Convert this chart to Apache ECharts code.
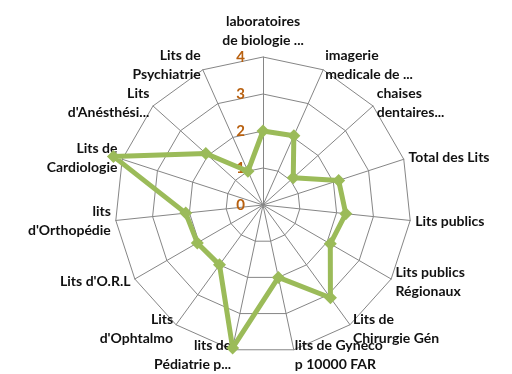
<!DOCTYPE html>
<html>
<head>
<meta charset="utf-8">
<script src="https://cdn.jsdelivr.net/npm/echarts@6/dist/echarts.min.js"></script>
<style>
  html, body { margin: 0; padding: 0; background: #fff; }
  #chart { width: 512px; height: 374px; }
</style>
</head>
<body>
<div id="chart"></div>
<script>
// catégories (dans le sens horaire, depuis le haut)
const categories = [
  'laboratoires\nde biologie ...',
  'imagerie\nmedicale de ...',
  'chaises\ndentaires...',
  'Total des Lits',
  'Lits publics',
  'Lits publics\nRégionaux',
  'Lits de\nChirurgie Gén',
  'lits de Gyneco\np 10000 FAR',
  'lits de\nPédiatrie p...',
  'Lits\nd\'Ophtalmo',
  'Lits d\'O.R.L',
  'lits\nd\'Orthopédie',
  'Lits de\nCardiologie',
  'Lits\nd\'Anésthési...',
  'Lits de\nPsychiatrie'
];
const values = [2.0, 2.05, 1.1, 2.15, 2.25, 2.1, 3.1, 2.0, 3.95, 2.0, 2.05, 2.1, 4.25, 2.08, 1.0];
const axisMax = 4;

// le radar d'ECharts tourne dans le sens anti-horaire : on inverse l'ordre
const order = [0].concat(categories.map((c, i) => i).slice(1).reverse());

const chart = echarts.init(document.getElementById('chart'));

const indicator = order.map((idx, i) => {
  const ind = { name: categories[idx], min: 0, max: axisMax };
  // seulement l'axe du haut porte les graduations
  if (i === 0) ind.axisLabel = { show: true };
  return ind;
});

chart.setOption({
  backgroundColor: '#fff',
  animation: false,
  radar: {
    center: [263, 205],
    radius: 148,
    startAngle: 90,
    splitNumber: 4,
    shape: 'polygon',
    indicator: indicator,
    axisName: {
      color: '#111',
      fontFamily: 'Lato',
      fontWeight: 'bold',
      fontSize: 14,
      lineHeight: 19
    },
    nameGap: 5,
    axisLine: { lineStyle: { color: '#868686', width: 1 } },
    splitLine: { lineStyle: { color: '#868686', width: 1 } },
    splitArea: { show: false },
    axisTick: { show: false },
    axisLabel: {
      show: false,
      color: '#b8600f',
      fontFamily: 'Lato',
      fontWeight: 'bold',
      fontSize: 15,
      margin: 18
    }
  },
  series: [{
    type: 'radar',
    symbol: 'diamond',
    symbolSize: 13,
    lineStyle: { color: '#9bbb59', width: 5 },
    itemStyle: { color: '#9bbb59' },
    data: [{ value: order.map(idx => values[idx]) }]
  }]
});
</script>
</body>
</html>
